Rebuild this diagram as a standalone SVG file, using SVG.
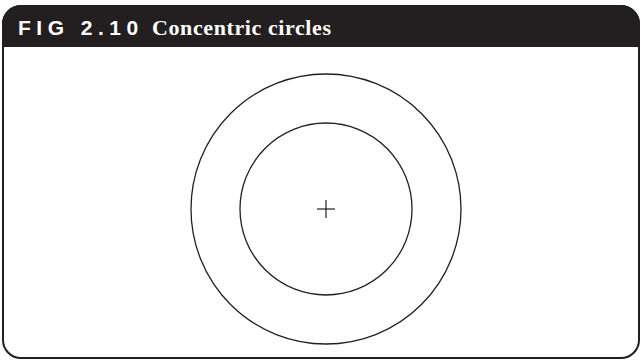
<svg xmlns="http://www.w3.org/2000/svg" width="642" height="360" viewBox="0 0 642 360">
  <style>
    .frame { fill: #ffffff; stroke: #231f20; stroke-width: 2; }
    .header { fill: #231f20; }
    .circ { fill: none; stroke: #231f20; stroke-width: 1.3; }
    .cross { stroke: #231f20; stroke-width: 1.2; }
    .fig { font-family: "Liberation Sans", Arial, sans-serif; font-weight: bold; font-size: 21px; letter-spacing: 5.5px; fill: #ffffff; }
    .title { font-family: "Liberation Serif", "Times New Roman", serif; font-weight: bold; font-size: 22px; letter-spacing: 0.6px; fill: #ffffff; }
  </style>
  <rect class="frame" x="3" y="6" width="636" height="352" rx="18" ry="18"/>
  <path class="header" d="M2,47 V25 A19,19 0 0 1 21,5 H621 A19,19 0 0 1 640,25 V47 Z"/>
  <text class="fig" x="18" y="35">FIG 2.10</text>
  <text class="title" x="152" y="35">Concentric circles</text>
  <g id="outer-circle">
    <circle class="circ" cx="326" cy="209" r="135"/>
  </g>
  <g id="inner-circle">
    <circle class="circ" cx="326" cy="209" r="86"/>
  </g>
  <g id="center">
    <line class="cross" x1="317" y1="209" x2="335" y2="209"/>
    <line class="cross" x1="326" y1="200" x2="326" y2="218"/>
  </g>
</svg>
